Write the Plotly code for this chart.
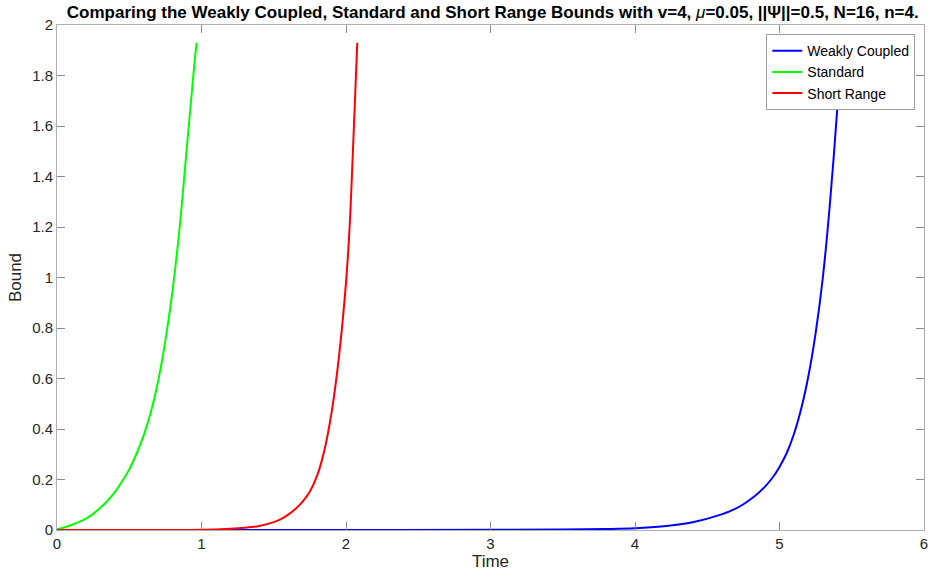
import plotly.graph_objects as go

# Data
t_standard = [0.0, 0.05, 0.1, 0.15, 0.2, 0.25, 0.3, 0.35, 0.4, 0.45, 0.5, 0.55, 0.6, 0.65, 0.7, 0.75, 0.8, 0.85, 0.9, 0.95, 0.966]
b_standard = [0.003, 0.01, 0.02, 0.031, 0.045, 0.064, 0.088, 0.116, 0.15, 0.192, 0.24, 0.302, 0.375, 0.468, 0.59, 0.75, 0.95, 1.205, 1.525, 1.84, 1.93]

t_short = [0.0, 1.0, 1.2, 1.3, 1.4, 1.5, 1.55, 1.6, 1.65, 1.7, 1.75, 1.8, 1.85, 1.9, 1.95, 2.0, 2.025, 2.05, 2.078]
b_short = [0.0, 0.001, 0.005, 0.009, 0.016, 0.031, 0.043, 0.061, 0.083, 0.112, 0.152, 0.215, 0.315, 0.465, 0.68, 0.98, 1.2, 1.53, 1.93]

t_weak = [0.0, 1.0, 2.0, 3.0, 3.5, 3.8, 4.0, 4.2, 4.4, 4.6, 4.65, 4.7, 4.75, 4.8, 4.85, 4.9, 4.95, 5.0, 5.05, 5.1, 5.15, 5.2, 5.25, 5.3, 5.35, 5.4, 5.434]
b_weak = [0.0, 0.0, 0.0, 0.001, 0.002, 0.004, 0.007, 0.015, 0.031, 0.062, 0.073, 0.086, 0.102, 0.122, 0.145, 0.172, 0.206, 0.25, 0.305, 0.38, 0.48, 0.61, 0.78, 1.0, 1.3, 1.67, 1.96]

x_ticks = [0, 1, 2, 3, 4, 5, 6]
y_ticks = [0, 0.2, 0.4, 0.6, 0.8, 1, 1.2, 1.4, 1.6, 1.8, 2]
y_labels = ["0", "0.2", "0.4", "0.6", "0.8", "1", "1.2", "1.4", "1.6", "1.8", "2"]

FONT = "Liberation Sans, Arial, Helvetica, sans-serif"

fig = go.Figure()
fig.add_trace(go.Scatter(x=t_weak, y=b_weak, mode="lines", name="Weakly Coupled",
                         line=dict(color="#0000ff", width=2, shape="spline", smoothing=1.0)))
fig.add_trace(go.Scatter(x=t_standard, y=b_standard, mode="lines", name="Standard",
                         line=dict(color="#00ff00", width=2, shape="spline", smoothing=1.0)))
fig.add_trace(go.Scatter(x=t_short, y=b_short, mode="lines", name="Short Range",
                         line=dict(color="#ff0000", width=2, shape="spline", smoothing=1.0)))

axis_common = dict(
    showgrid=False, zeroline=False, showline=True, linecolor="#b0b0b0", linewidth=1,
    mirror="ticks", ticks="inside", ticklen=8, tickcolor="#8c8c8c", tickwidth=1,
    tickfont=dict(family=FONT, size=15, color="#262626"),
)

fig.update_layout(
    width=935, height=580,
    margin=dict(l=57, r=7, t=25, b=50),
    paper_bgcolor="white", plot_bgcolor="white",
    font=dict(family=FONT, color="#262626"),
    title=dict(
        text="<b>Comparing the Weakly Coupled, Standard and Short Range Bounds with v=4, </b><i>μ</i><b>=0.05, ||Ψ||=0.5, N=16, n=4.</b>",
        x=0.527, xanchor="center", y=0.979, yanchor="middle",
        font=dict(family=FONT, size=17, color="#000000"),
    ),
    xaxis=dict(range=[0, 6], tickvals=x_ticks, ticktext=[str(v) for v in x_ticks],
               title=dict(text="Time", font=dict(family=FONT, size=17, color="#262626"), standoff=4),
               **axis_common),
    yaxis=dict(range=[0, 2], tickvals=y_ticks, ticktext=y_labels,
               title=dict(text="Bound", font=dict(family=FONT, size=17, color="#262626"), standoff=6),
               **axis_common),
    legend=dict(
        x=0.99, xanchor="right", y=0.982, yanchor="top",
        bgcolor="white", bordercolor="#a0a0a0", borderwidth=1,
        font=dict(family=FONT, size=14, color="#000000"),
        tracegroupgap=0, itemwidth=30,
    ),
    showlegend=True,
)

fig.write_html("out.html")
